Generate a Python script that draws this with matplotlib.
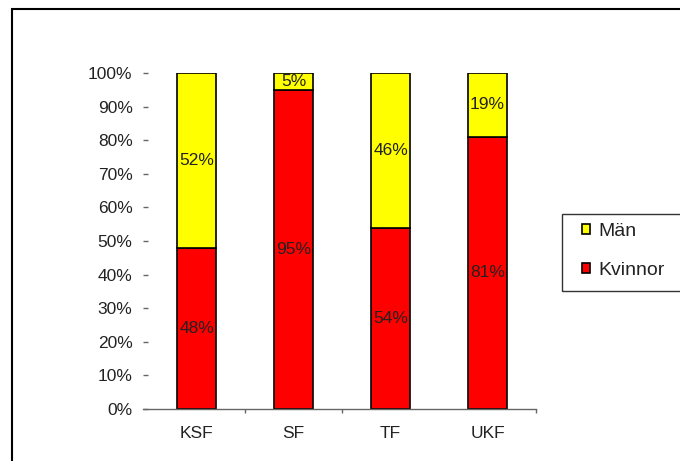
import matplotlib
matplotlib.use('Agg')
import matplotlib.pyplot as plt
from matplotlib.patches import Patch, Rectangle
from matplotlib.ticker import FixedLocator

plt.rcParams['font.family'] = ['Liberation Sans', 'DejaVu Sans']

# data
categories = ['KSF', 'SF', 'TF', 'UKF']
kvinnor = [48, 95, 54, 81]
man = [52, 5, 46, 19]
yticks = [0, 10, 20, 30, 40, 50, 60, 70, 80, 90, 100]
ylabels = [f'{t}%' for t in yticks]
boundary_ticks = [0.5, 1.5, 3.5]

yellow = '#FFFF00'
red = '#FF0000'
axis_col = '#666666'
fs = 12.5

fig = plt.figure(figsize=(6.8, 4.61), dpi=100)
ax = fig.add_axes([143 / 680, 1 - 409 / 461, 393 / 680, 336 / 461])

x = list(range(len(categories)))
w = 0.41
ax.bar(x, kvinnor, w, color=red, edgecolor='black', linewidth=1.2, label='Kvinnor')
ax.bar(x, man, w, bottom=kvinnor, color=yellow, edgecolor='black', linewidth=1.2, label='Män')

for i in x:
    ax.text(i, kvinnor[i] / 2, f'{kvinnor[i]}%', ha='center', va='center', fontsize=fs, color='#222222')
    ax.text(i, kvinnor[i] + man[i] / 2, f'{man[i]}%', ha='center', va='center', fontsize=fs, color='#222222')

ax.set_xlim(-0.5 - 5 / 97, 3.5)
ax.set_ylim(0, 100)
ax.set_yticks(yticks)
ax.set_yticklabels(ylabels)
ax.set_xticks(x)
ax.set_xticklabels(categories)
ax.xaxis.set_minor_locator(FixedLocator(boundary_ticks))

for s in ['top', 'right', 'left']:
    ax.spines[s].set_visible(False)
ax.spines['bottom'].set_color(axis_col)
ax.spines['bottom'].set_linewidth(1.0)

ax.tick_params(axis='y', direction='in', length=3.6, width=1.0, color=axis_col,
               pad=7.5, labelsize=fs, labelcolor='#222222')
ax.tick_params(axis='x', which='major', length=0, pad=12, labelsize=fs, labelcolor='#222222')
ax.tick_params(axis='x', which='minor', direction='out', length=3, width=1.0, color=axis_col)

# legend entries (frameless) + separate box that runs past the right edge
handles = [Patch(facecolor=yellow, edgecolor='black', linewidth=1.2, label='Män'),
           Patch(facecolor=red, edgecolor='black', linewidth=1.2, label='Kvinnor')]
leg = fig.legend(handles=handles, loc='center left',
                 bbox_to_anchor=(582 / 680, 1 - 251 / 461),
                 frameon=False, fontsize=14,
                 handlelength=0.42, handleheight=0.42, handletextpad=0.42,
                 labelspacing=1.1, borderpad=0, borderaxespad=0)
for t in leg.get_texts():
    t.set_color('#222222')
fig.patches.append(Rectangle((562 / 680, 1 - 291 / 461), 130 / 680, 77 / 461, transform=fig.transFigure,
                             fill=False, edgecolor='#333333', linewidth=1.0))

# outer chart border (extends past the right and bottom edge)
fig.patches.append(Rectangle((11.5 / 680, -0.1), 2, 1.1 - 9.5 / 461, transform=fig.transFigure,
                             fill=False, edgecolor='black', linewidth=1.5))

fig.savefig('out.png', dpi=100)
